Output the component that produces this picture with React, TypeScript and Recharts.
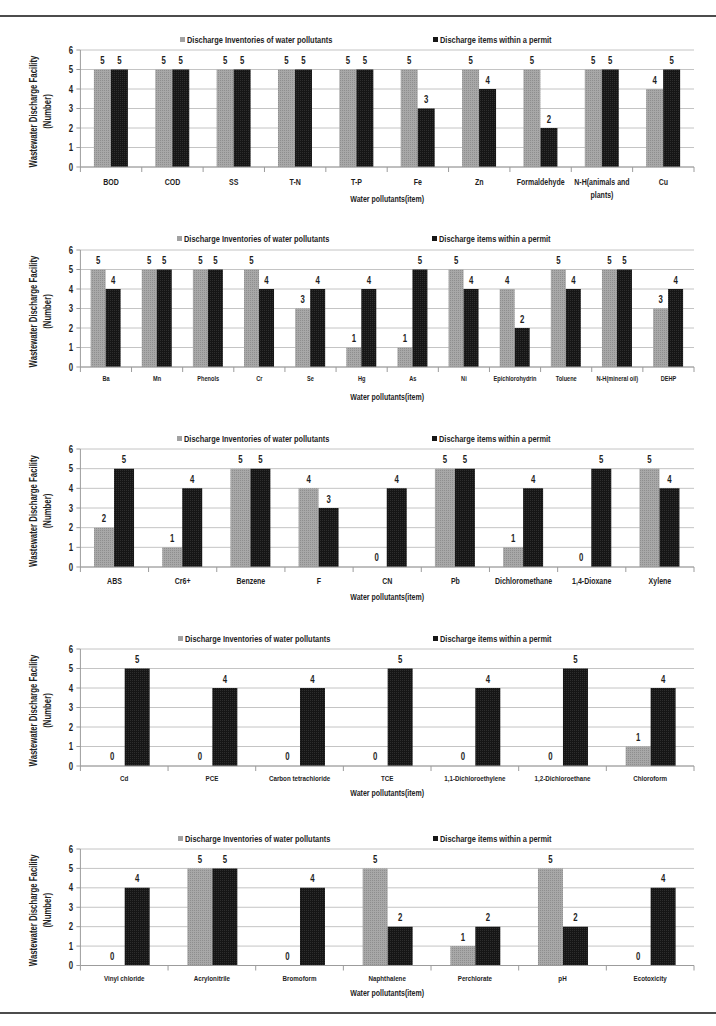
import React from "react";
import { BarChart, Bar, XAxis, YAxis, CartesianGrid, LabelList } from "recharts";

const FONT = "'Liberation Sans', Arial, sans-serif";
const SQUISH = 0.78;
const INK = "#1e1e1e";

// series / axis text
const seriesNames = ["Discharge Inventories of water pollutants", "Discharge items within a permit"];
const yTitle = ["Wastewater Discharge Facility", "(Number)"];
const xTitle = "Water pollutants(item)";
const yTicks = [0, 1, 2, 3, 4, 5, 6];

// panel 1
const cats1 = ["BOD", "COD", "SS", "T-N", "T-P", "Fe", "Zn", "Formaldehyde", "N-H(animals and plants)", "Cu"];
const inv1 = [5, 5, 5, 5, 5, 5, 5, 5, 5, 4];
const permit1 = [5, 5, 5, 5, 5, 3, 4, 2, 5, 5];

// panel 2
const cats2 = ["Ba", "Mn", "Phenols", "Cr", "Se", "Hg", "As", "Ni", "Epichlorohydrin", "Toluene", "N-H(mineral oil)", "DEHP"];
const inv2 = [5, 5, 5, 5, 3, 1, 1, 5, 4, 5, 5, 3];
const permit2 = [4, 5, 5, 4, 4, 4, 5, 4, 2, 4, 5, 4];

// panel 3
const cats3 = ["ABS", "Cr6+", "Benzene", "F", "CN", "Pb", "Dichloromethane", "1,4-Dioxane", "Xylene"];
const inv3 = [2, 1, 5, 4, 0, 5, 1, 0, 5];
const permit3 = [5, 4, 5, 3, 4, 5, 4, 5, 4];

// panel 4
const cats4 = ["Cd", "PCE", "Carbon tetrachloride", "TCE", "1,1-Dichloroethylene", "1,2-Dichloroethane", "Chloroform"];
const inv4 = [0, 0, 0, 0, 0, 0, 1];
const permit4 = [5, 4, 4, 5, 4, 5, 4];

// panel 5
const cats5 = ["Vinyl chloride", "Acrylonitrile", "Bromoform", "Naphthalene", "Perchlorate", "pH", "Ecotoxicity"];
const inv5 = [0, 5, 0, 5, 1, 5, 0];
const permit5 = [4, 5, 4, 2, 2, 2, 4];

// layout of each panel (page pixels)
const panels = [
  { top: 0, plotTop: 50, plotBottom: 167, cats: cats1, inv: inv1, permit: permit1, catSize: 9, catDy: 15, titleDy: 32, gap: "22%", legendY: 39, markers: [182, 435], maxChars: 17 },
  { top: 200, plotTop: 250, plotBottom: 367, cats: cats2, inv: inv2, permit: permit2, catSize: 7.2, catDy: 11, titleDy: 30, gap: "20%", legendY: 238, markers: [179, 434], maxChars: 20 },
  { top: 400, plotTop: 449, plotBottom: 567, cats: cats3, inv: inv3, permit: permit3, catSize: 9, catDy: 14, titleDy: 30, gap: "20%", legendY: 438, markers: [179, 434], maxChars: 20 },
  { top: 600, plotTop: 649, plotBottom: 766, cats: cats4, inv: inv4, permit: permit4, catSize: 8, catDy: 12, titleDy: 27, gap: "22%", legendY: 638, markers: [180, 435], maxChars: 24 },
  { top: 800, plotTop: 849, plotBottom: 965.5, cats: cats5, inv: inv5, permit: permit5, catSize: 8, catDy: 12.5, titleDy: 27.5, gap: "22%", legendY: 838, markers: [180, 435], maxChars: 24 },
];

const CHART_W = 716;
const CHART_H = 210;
const PLOT_L = 80.4;
const PLOT_R = 694;
const XH = 40;
const AXIS = "#9c9c9c";

// horizontally squeezed text, like the narrow font in the original figure
const Sq = ({ x, y, size, anchor = "middle", rotate = 0, children }: any) => (
  <text
    x={0}
    y={0}
    dy="0.35em"
    transform={`translate(${x},${y}) rotate(${rotate}) scale(${SQUISH},1)`}
    textAnchor={anchor}
    fontSize={size}
    fontWeight={700}
    fontFamily={FONT}
    fill={INK}
  >
    {children}
  </text>
);

const wrapLabel = (s: string, maxChars: number) => {
  const lines: string[] = [];
  let cur = "";
  for (const w of s.split(" ")) {
    const next = cur ? cur + " " + w : w;
    if (next.length > maxChars && cur) {
      lines.push(cur);
      cur = w;
    } else cur = next;
  }
  lines.push(cur);
  return lines;
};

const Panel = ({ p, idx }: { p: (typeof panels)[number]; idx: number }) => {
  const plotTopRel = p.plotTop - p.top;
  const plotBottomRel = p.plotBottom - p.top;
  const data = p.cats.map((name, i) => ({ name, inv: p.inv[i], permit: p.permit[i] }));
  const n = p.cats.length;
  const band = (PLOT_R - PLOT_L) / n;
  const grayId = `gray${idx}`;
  const blackId = `black${idx}`;

  const CatTick = ({ x, y, payload, index }: any) => {
    const lines = wrapLabel(String(payload.value), p.maxChars);
    return (
      <g>
        <line x1={x - band / 2} x2={x - band / 2} y1={y} y2={y + 5} stroke={AXIS} />
        {index === n - 1 && <line x1={x + band / 2} x2={x + band / 2} y1={y} y2={y + 5} stroke={AXIS} />}
        {lines.map((l, i) => (
          <Sq key={i} x={x} y={y + p.catDy + i * 13} size={p.catSize}>
            {l}
          </Sq>
        ))}
      </g>
    );
  };

  const YTick = ({ y, payload }: any) => (
    <Sq x={73} y={y} size={10} anchor="end">
      {payload.value}
    </Sq>
  );

  const valueLabel = (props: any) => {
    const vb = props.viewBox ?? {};
    const x = props.x ?? vb.x;
    const y = props.y ?? vb.y;
    const w = props.width ?? vb.width;
    return (
      <Sq x={x + w / 2} y={y - 9} size={10}>
        {props.value}
      </Sq>
    );
  };

  const yMid = (plotTopRel + plotBottomRel) / 2 + 3;

  return (
    <div style={{ position: "absolute", top: p.top, left: 0, width: CHART_W, height: CHART_H }}>
      <BarChart
        width={CHART_W}
        height={CHART_H}
        data={data}
        margin={{ top: plotTopRel, right: CHART_W - PLOT_R, left: 0, bottom: CHART_H - plotBottomRel - XH }}
        barCategoryGap={p.gap}
        barGap={0}
      >
        <defs>
          <pattern id={grayId} width="2" height="2" patternUnits="userSpaceOnUse">
            <rect width="2" height="2" fill="#a8a8a8" />
            <rect width="1" height="1" fill="#8e8e8e" />
          </pattern>
          <pattern id={blackId} width="2" height="2" patternUnits="userSpaceOnUse">
            <rect width="2" height="2" fill="#161616" />
            <rect width="1" height="1" fill="#2e2e2e" />
          </pattern>
        </defs>
        <CartesianGrid vertical={false} stroke="#c4c4c4" />
        <XAxis
          dataKey="name"
          height={XH}
          interval={0}
          tickLine={false}
          tickSize={0}
          tickMargin={0}
          axisLine={{ stroke: AXIS }}
          tick={<CatTick />}
          label={{
            value: xTitle,
            content: () => (
              <Sq x={(PLOT_L + PLOT_R) / 2} y={plotBottomRel + p.titleDy} size={9}>
                {xTitle}
              </Sq>
            ),
          }}
        />
        <YAxis
          width={PLOT_L}
          domain={[0, 6]}
          ticks={yTicks}
          interval={0}
          tickSize={4}
          tickLine={{ stroke: AXIS }}
          axisLine={{ stroke: AXIS }}
          tick={<YTick />}
          label={{
            value: yTitle[0],
            content: () => (
              <g>
                <Sq x={33} y={yMid} size={10} rotate={-90}>
                  {yTitle[0]}
                </Sq>
                <Sq x={47.5} y={yMid} size={10} rotate={-90}>
                  {yTitle[1]}
                </Sq>
              </g>
            ),
          }}
        />
        <Bar dataKey="inv" name={seriesNames[0]} fill={`url(#${grayId})`} minPointSize={0.01} isAnimationActive={false}>
          <LabelList dataKey="inv" content={valueLabel} />
        </Bar>
        <Bar dataKey="permit" name={seriesNames[1]} fill={`url(#${blackId})`} minPointSize={0.01} isAnimationActive={false}>
          <LabelList dataKey="permit" content={valueLabel} />
        </Bar>
      </BarChart>
      {/* legend */}
      {seriesNames.map((s, i) => (
        <div
          key={s}
          style={{
            position: "absolute",
            top: p.legendY - p.top - 7,
            left: p.markers[i] - 2.5,
            height: 14,
            display: "flex",
            alignItems: "center",
            whiteSpace: "nowrap",
          }}
        >
          <span style={{ width: 5, height: 5, background: i === 0 ? "#a2a2a2" : "#161616", display: "inline-block" }} />
          <span
            style={{
              marginLeft: 2,
              fontFamily: FONT,
              fontWeight: 700,
              fontSize: 9.5,
              color: INK,
              transform: `scaleX(${SQUISH})`,
              transformOrigin: "left center",
              display: "inline-block",
            }}
          >
            {s}
          </span>
        </div>
      ))}
    </div>
  );
};

export default function App() {
  return (
    <div style={{ position: "absolute", left: 0, top: 0, width: 716, height: 1026, background: "#fff", overflow: "hidden" }}>
      <div style={{ position: "absolute", left: 0, top: 14.5, width: 716, height: 2, background: "#4c4c4c" }} />
      <div style={{ position: "absolute", left: 0, top: 1012, width: 716, height: 2, background: "#4c4c4c" }} />
      {panels.map((p, i) => (
        <Panel key={i} p={p} idx={i} />
      ))}
    </div>
  );
}
